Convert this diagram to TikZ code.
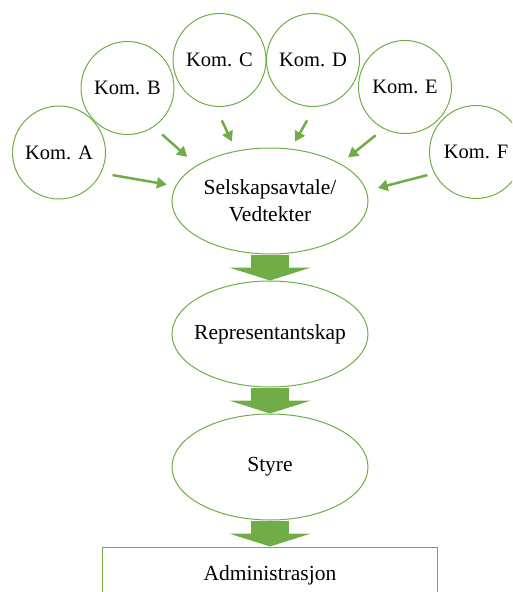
\documentclass[tikz,border=0pt]{standalone}
\usepackage{fontspec}
\setmainfont{Liberation Serif}
\usetikzlibrary{positioning,arrows.meta,shapes.geometric}
\definecolor{orggreen}{HTML}{70AD47}

\begin{document}
\begin{tikzpicture}[x=1pt,y=-1pt,
		kom/.style={circle,draw=orggreen,line width=1pt,minimum size=93pt,inner sep=0pt,font=\fontsize{20.5}{24}\selectfont},
		organ/.style={ellipse,draw=orggreen,line width=1pt,minimum width=196pt,minimum height=106pt,inner sep=0pt,inner xsep=-30pt,align=center,font=\fontsize{21.5}{27}\selectfont},
		feed/.style={draw=orggreen,line width=2.5pt,-{Triangle[length=10pt,width=11pt]}},
		flow/.style={draw=orggreen,line width=38pt,-{Triangle[length=13pt,width=82pt,line width=0pt]}}]
		%Page frame
		\clip (0,0) rectangle (512,592);
		%Centres of the circles
		\coordinate (cA) at (59,152.5);
		\coordinate (cB) at (127.5,88);
		\coordinate (cC) at (219.5,60);
		\coordinate (cD) at (313,60);
		\coordinate (cE) at (405,87);
		\coordinate (cF) at (476,152);
		%The circles
		\node [kom] (komA) at (cA) {Kom. A};
		\node [kom] (komB) at (cB) {Kom. B};
		\node [kom] (komC) at (cC) {Kom. C};
		\node [kom] (komD) at (cD) {Kom. D};
		\node [kom] (komE) at (cE) {Kom. E};
		\node [kom] (komF) at (cF) {Kom. F};
		%The chain downwards
		\node [organ] (avtale) at (270,201) {Selskapsavtale/\\Vedtekter};
		\node [organ] (rep) [below=26pt of avtale] {Representantskap};
		\node [organ] (styre) [below=26pt of rep] {Styre};
		\node [draw=orggreen,line width=1.5pt,minimum width=335pt,minimum height=56pt,font=\fontsize{21.5}{24}\selectfont] (admin) [below=26pt of styre] {Administrasjon};
		%Arrows from the circles (circle anchor / ellipse anchor / gaps)
		\foreach \k/\from/\to/\gapa/\gapb in {A/-26/171/11.5/8.7,B/-56/154/11.3/12.6,C/-95/124/15/10.2,D/-88/68/15.4/8.2,E/-117/28/10.3/9.8,F/-153/6/6.9/11.4} {
			\draw [feed,shorten <=\gapa pt,shorten >=\gapb pt] (kom\k.\from) -- (avtale.\to);
		}
		%Big arrows between the levels
		\draw [flow] (avtale) -- (rep);
		\draw [flow] (rep) -- (styre);
		\draw [flow] (styre) -- (admin);
		\end{tikzpicture}
\end{document}
